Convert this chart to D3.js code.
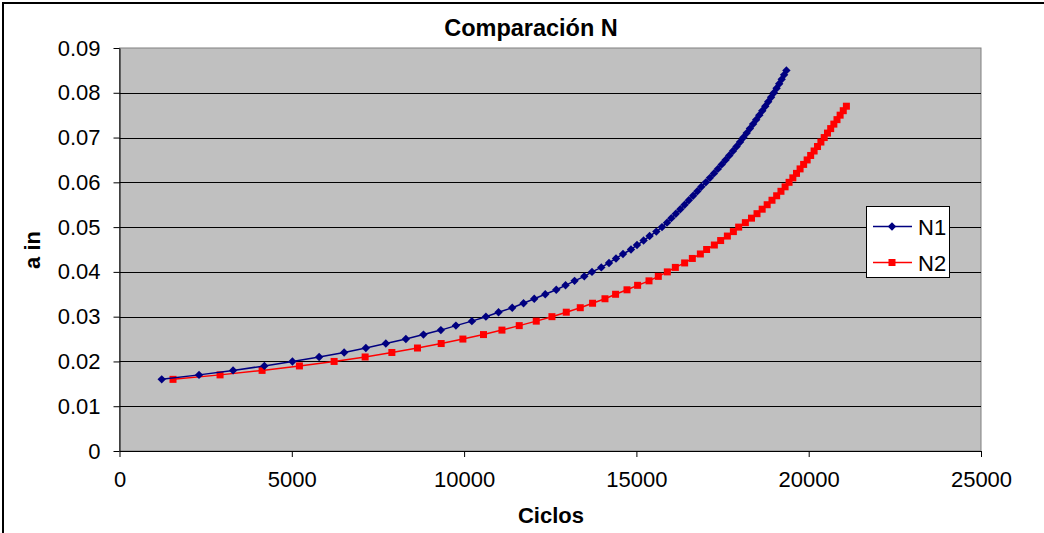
<!DOCTYPE html>
<html><head><meta charset="utf-8">
<script src="https://cdn.jsdelivr.net/npm/d3@7"></script>
<style>body{margin:0;background:#fff}svg{display:block;font-family:"Liberation Sans",Arial,sans-serif}</style>
</head><body><svg id="c" width="1044" height="533"></svg>
<script>
const title = "Comparación N";
const xTitle = "Ciclos";
const yTitle = "a in";
const xTicks = [0, 5000, 10000, 15000, 20000, 25000];
const yTicks = [0, 0.01, 0.02, 0.03, 0.04, 0.05, 0.06, 0.07, 0.08, 0.09];
const seriesNames = ["N1", "N2"];

const n1Ciclos = [1225, 2308, 3296, 4204, 5018, 5793, 6519, 7149, 7729, 8310, 8821, 9326, 9762, 10226, 10633, 10999, 11397, 11725, 12036, 12355, 12675, 12944, 13206, 13488, 13711, 13981, 14205, 14408, 14611, 14843, 15017, 15209, 15383, 15578, 15743, 15888, 16013, 16144, 16274, 16399, 16521, 16646, 16768, 16885, 17015, 17134, 17250, 17364, 17477, 17587, 17695, 17802, 17907, 18008, 18104, 18200, 18293, 18386, 18476, 18566, 18653, 18740, 18824, 18908, 18990, 19068, 19144, 19216, 19286, 19353];
const n1A = [0.016, 0.017, 0.018, 0.019, 0.020, 0.021, 0.022, 0.023, 0.024, 0.025, 0.026, 0.027, 0.028, 0.029, 0.030, 0.031, 0.032, 0.033, 0.034, 0.035, 0.036, 0.037, 0.038, 0.039, 0.040, 0.041, 0.042, 0.043, 0.044, 0.045, 0.046, 0.047, 0.048, 0.049, 0.050, 0.051, 0.052, 0.053, 0.054, 0.055, 0.056, 0.057, 0.058, 0.059, 0.060, 0.061, 0.062, 0.063, 0.064, 0.065, 0.066, 0.067, 0.068, 0.069, 0.070, 0.071, 0.072, 0.073, 0.074, 0.075, 0.076, 0.077, 0.078, 0.079, 0.080, 0.081, 0.082, 0.083, 0.084, 0.085];

const n2Ciclos = [1553, 2918, 4138, 5221, 6228, 7128, 7904, 8647, 9335, 9965, 10563, 11098, 11600, 12094, 12549, 12965, 13371, 13728, 14088, 14396, 14727, 15035, 15366, 15636, 15897, 16130, 16400, 16623, 16856, 17038, 17262, 17445, 17640, 17814, 17968, 18162, 18340, 18500, 18650, 18795, 18935, 19070, 19195, 19315, 19430, 19540, 19646, 19750, 19853, 19955, 20057, 20157, 20256, 20354, 20450, 20545, 20638, 20730, 20821, 20912, 21003, 21094];
const n2A = [0.016, 0.017, 0.018, 0.019, 0.020, 0.021, 0.022, 0.023, 0.024, 0.025, 0.026, 0.027, 0.028, 0.029, 0.030, 0.031, 0.032, 0.033, 0.034, 0.035, 0.036, 0.037, 0.038, 0.039, 0.040, 0.041, 0.042, 0.043, 0.044, 0.045, 0.046, 0.047, 0.048, 0.049, 0.050, 0.051, 0.052, 0.053, 0.054, 0.055, 0.056, 0.057, 0.058, 0.059, 0.060, 0.061, 0.062, 0.063, 0.064, 0.065, 0.066, 0.067, 0.068, 0.069, 0.070, 0.071, 0.072, 0.073, 0.074, 0.075, 0.076, 0.077];

const svg = d3.select("#c");
const L = 119.5, R = 981, T = 48, B = 451;
const x = d3.scaleLinear().domain([0, 25000]).range([L, R]);
const y = d3.scaleLinear().domain([0, 0.09]).range([B, T]);

// outer frame
svg.append("rect").attr("x", 3).attr("y", 3).attr("width", 1060).attr("height", 560)
  .attr("fill", "#fff").attr("stroke", "#000").attr("stroke-width", 2);

// plot area
svg.append("rect").attr("x", L).attr("y", T).attr("width", R - L).attr("height", B - T)
  .attr("fill", "#C0C0C0").attr("stroke", "#808080").attr("stroke-width", 1);

// gridlines
svg.append("g").selectAll("line").data(yTicks.filter(d => d > 0 && d < 0.09)).join("line")
  .attr("x1", L).attr("x2", R).attr("y1", d => Math.round(y(d)) + 0.5).attr("y2", d => Math.round(y(d)) + 0.5)
  .attr("stroke", "#000").attr("stroke-width", 1);

// axes
const yAxis = d3.axisLeft(y).tickValues(yTicks).tickFormat(d => d === 0 ? "0" : d3.format(".2f")(d)).tickSizeInner(6).tickSizeOuter(0).tickPadding(13);
const gy = svg.append("g").attr("transform", `translate(${L},0)`).call(yAxis);
gy.selectAll("text").attr("font-size", 22).attr("fill", "#000").attr("font-family", "Liberation Sans, Arial, sans-serif");
gy.select(".domain").attr("stroke", "#000");
gy.selectAll(".tick line").attr("stroke", "#000");

const xAxis = d3.axisBottom(x).tickValues(xTicks).tickFormat(d3.format("d")).tickSizeInner(6).tickSizeOuter(0).tickPadding(14);
const gx = svg.append("g").attr("transform", `translate(0,${B})`).call(xAxis);
gx.selectAll("text").attr("font-size", 22).attr("fill", "#000").attr("font-family", "Liberation Sans, Arial, sans-serif");
gx.select(".domain").attr("stroke", "#000");
gx.selectAll(".tick line").attr("stroke", "#000");

// titles
svg.append("text").attr("x", 531).attr("y", 36).attr("text-anchor", "middle")
  .attr("font-size", 23.5).attr("font-weight", "bold").text(title);
svg.append("text").attr("x", 551).attr("y", 523).attr("text-anchor", "middle")
  .attr("font-size", 22).attr("font-weight", "bold").text(xTitle);
svg.append("text").attr("transform", "translate(40,250) rotate(-90)").attr("text-anchor", "middle")
  .attr("font-size", 22).attr("font-weight", "bold").text(yTitle);

const line = d3.line().x(d => x(d[0])).y(d => y(d[1]));
const d1 = n1Ciclos.map((c, i) => [c, n1A[i]]);
const d2 = n2Ciclos.map((c, i) => [c, n2A[i]]);
const colors = ["#000080", "#FF0000"];

function diamond(g, cx, cy, s, col) {
  g.append("path").attr("d", `M${cx},${cy - s}L${cx + s},${cy}L${cx},${cy + s}L${cx - s},${cy}Z`).attr("fill", col);
}
function square(g, cx, cy, s, col) {
  g.append("rect").attr("x", cx - s).attr("y", cy - s).attr("width", 2 * s).attr("height", 2 * s).attr("fill", col);
}

svg.append("path").datum(d2).attr("d", line).attr("fill", "none").attr("stroke", colors[1]).attr("stroke-width", 1.5);
const g2 = svg.append("g");
g2.selectAll("rect").data(d2).join("rect")
  .attr("x", d => x(d[0]) - 3.5).attr("y", d => y(d[1]) - 3.5).attr("width", 7).attr("height", 7).attr("fill", colors[1]);

svg.append("path").datum(d1).attr("d", line).attr("fill", "none").attr("stroke", colors[0]).attr("stroke-width", 1.5);
const g1 = svg.append("g");
g1.selectAll("path").data(d1).join("path")
  .attr("d", d => { const cx = x(d[0]), cy = y(d[1]), s = 4.2; return `M${cx},${cy - s}L${cx + s},${cy}L${cx},${cy + s}L${cx - s},${cy}Z`; })
  .attr("fill", colors[0]);

// legend
const lg = svg.append("g");
lg.append("rect").attr("x", 866.5).attr("y", 206.5).attr("width", 83).attr("height", 71)
  .attr("fill", "#fff").attr("stroke", "#000").attr("stroke-width", 1);
seriesNames.forEach((nm, i) => {
  const ly = 226.5 + i * 36;
  lg.append("line").attr("x1", 873).attr("x2", 912).attr("y1", ly).attr("y2", ly).attr("stroke", colors[i]).attr("stroke-width", 1.5);
  if (i === 0) diamond(lg, 892, ly, 4.2, colors[0]); else square(lg, 892, ly, 3.5, colors[1]);
  lg.append("text").attr("x", 918).attr("y", ly + 8).attr("font-size", 22).text(nm);
});
</script></body></html>
